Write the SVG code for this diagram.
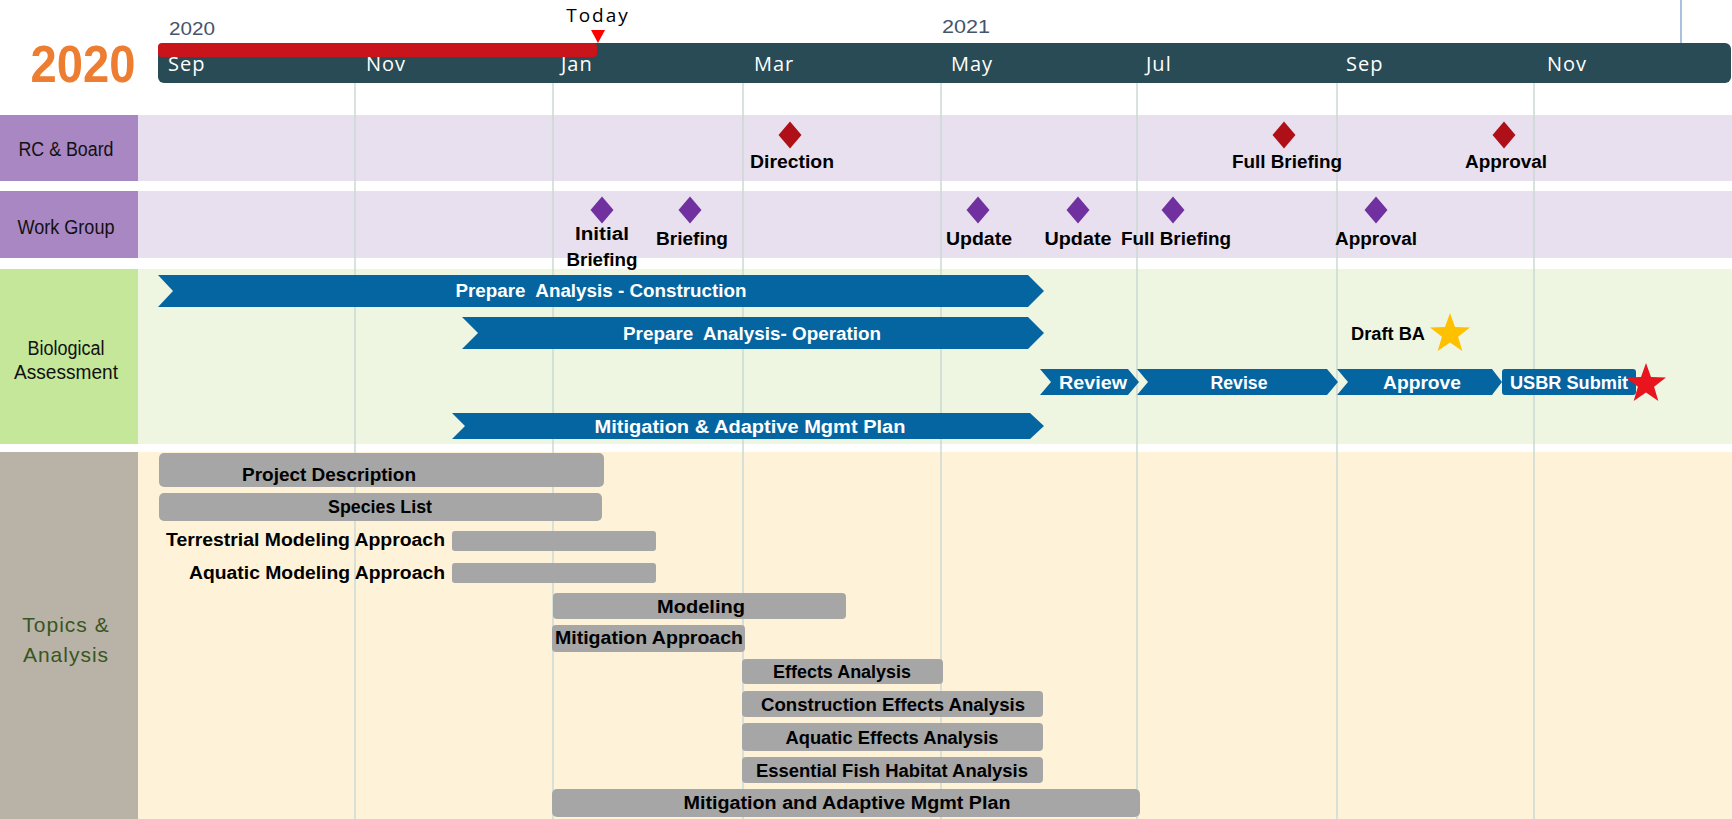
<svg xmlns="http://www.w3.org/2000/svg" width="1732" height="819" viewBox="0 0 1732 819">
<style>
.lbl{font-family:"Liberation Sans",Arial,sans-serif;font-weight:bold;font-size:18px;fill:#000}
.wl{font-family:"Liberation Sans",Arial,sans-serif;font-weight:bold;font-size:18px;fill:#fff}
.row{font-family:"Liberation Sans",Arial,sans-serif;font-size:20px;fill:#111}
.mon{font-family:"Open Sans","DejaVu Sans",sans-serif;font-size:20px;fill:#fff;letter-spacing:1px}
.yr{font-family:"Liberation Sans",Arial,sans-serif;font-size:19px;fill:#44546A}
.grid{stroke:#CBD8D3;stroke-width:1.5}
.blue{fill:#0565A1}
.gray{fill:#A6A6A6}
.rd{fill:#AF0F17}
.pd{fill:#7030A0}
</style>
<defs>
<path id="dia" d="M0,-13.5 L11.5,0 L0,13.5 L-11.5,0Z"/>
<path id="star" d="M0,-21 L5,-6.88 L19.97,-6.49 L8.08,2.63 L12.34,16.99 L0,8.5 L-12.34,16.99 L-8.08,2.63 L-19.97,-6.49 L-5,-6.88Z"/>
</defs>
<rect width="1732" height="819" fill="#fff"/>

<g id="timeline">
<text x="83" y="82" font-family="Liberation Sans,Arial,sans-serif" font-weight="bold" font-size="52" fill="#ED7D31" text-anchor="middle" textLength="105" lengthAdjust="spacingAndGlyphs">2020</text>
<text class="yr" x="169" y="35" textLength="46" lengthAdjust="spacingAndGlyphs">2020</text>
<text class="yr" x="942" y="33" textLength="48" lengthAdjust="spacingAndGlyphs">2021</text>
<line x1="1681" y1="0" x2="1681" y2="44" stroke="#A9C0DE" stroke-width="2"/>
<rect x="158" y="43" width="1573" height="40" rx="6" fill="#284B55"/>
<rect x="158" y="43" width="439" height="14" rx="4" fill="#C8141A"/>
<polygon points="591,30 605,30 598,43" fill="#FF0000"/>
<text x="598" y="22" font-family="Open Sans,DejaVu Sans,sans-serif" font-size="19" fill="#000" text-anchor="middle" letter-spacing="2">Today</text>
<text class="mon" x="168" y="71">Sep</text>
<text class="mon" x="366" y="71">Nov</text>
<text class="mon" x="561" y="71">Jan</text>
<text class="mon" x="754" y="71">Mar</text>
<text class="mon" x="951" y="71">May</text>
<text class="mon" x="1146" y="71">Jul</text>
<text class="mon" x="1346" y="71">Sep</text>
<text class="mon" x="1547" y="71">Nov</text>
</g>

<g id="bands">
<rect x="0" y="115" width="138" height="66" fill="#A987C3"/>
<rect x="138" y="115" width="1594" height="66" fill="#E8E0EF"/>
<rect x="0" y="191" width="138" height="67" fill="#A987C3"/>
<rect x="138" y="191" width="1594" height="67" fill="#E8E0EF"/>
<rect x="0" y="269" width="138" height="175" fill="#C4E799"/>
<rect x="138" y="269" width="1594" height="175" fill="#EEF6E2"/>
<rect x="0" y="452" width="138" height="367" fill="#B9B2A7"/>
<rect x="138" y="452" width="1594" height="367" fill="#FEF3D9"/>
</g>

<g id="gridlines">
<line class="grid" x1="355" y1="83" x2="355" y2="819"/>
<line class="grid" x1="553" y1="83" x2="553" y2="819"/>
<line class="grid" x1="743" y1="83" x2="743" y2="819"/>
<line class="grid" x1="941" y1="83" x2="941" y2="819"/>
<line class="grid" x1="1137" y1="83" x2="1137" y2="819"/>
<line class="grid" x1="1337" y1="83" x2="1337" y2="819"/>
<line class="grid" x1="1534" y1="83" x2="1534" y2="819"/>
</g>

<g id="row-labels">
<text class="row" x="66" y="156" text-anchor="middle" textLength="95" lengthAdjust="spacingAndGlyphs">RC &amp; Board</text>
<text class="row" x="66" y="234" text-anchor="middle" textLength="97" lengthAdjust="spacingAndGlyphs">Work Group</text>
<text class="row" x="66" y="355" text-anchor="middle" textLength="77" lengthAdjust="spacingAndGlyphs">Biological</text>
<text class="row" x="66" y="379" text-anchor="middle" textLength="104" lengthAdjust="spacingAndGlyphs">Assessment</text>
<text x="66" y="632" font-family="Liberation Sans,Arial,sans-serif" font-size="21" fill="#375623" text-anchor="middle" letter-spacing="1">Topics &amp;</text>
<text x="66" y="662" font-family="Liberation Sans,Arial,sans-serif" font-size="21" fill="#375623" text-anchor="middle" letter-spacing="1">Analysis</text>
</g>

<g id="rc-milestones">
<g id="rc-direction"><use href="#dia" x="790" y="135" class="rd"/><text class="lbl" x="792" y="168" text-anchor="middle" textLength="84" lengthAdjust="spacingAndGlyphs">Direction</text></g>
<g id="rc-full-briefing"><use href="#dia" x="1284" y="135" class="rd"/><text class="lbl" x="1287" y="168" text-anchor="middle" textLength="110" lengthAdjust="spacingAndGlyphs">Full Briefing</text></g>
<g id="rc-approval"><use href="#dia" x="1504" y="135" class="rd"/><text class="lbl" x="1506" y="168" text-anchor="middle" textLength="82" lengthAdjust="spacingAndGlyphs">Approval</text></g>
</g>

<g id="wg-milestones">
<g id="wg-initial"><use href="#dia" x="602" y="210" class="pd"/><text class="lbl" x="602" y="240" text-anchor="middle" textLength="54" lengthAdjust="spacingAndGlyphs">Initial</text><text class="lbl" x="602" y="266" text-anchor="middle" textLength="71" lengthAdjust="spacingAndGlyphs">Briefing</text></g>
<g id="wg-briefing"><use href="#dia" x="690" y="210" class="pd"/><text class="lbl" x="692" y="245" text-anchor="middle" textLength="72" lengthAdjust="spacingAndGlyphs">Briefing</text></g>
<g id="wg-update1"><use href="#dia" x="978" y="210" class="pd"/><text class="lbl" x="979" y="245" text-anchor="middle" textLength="66" lengthAdjust="spacingAndGlyphs">Update</text></g>
<g id="wg-update2"><use href="#dia" x="1078" y="210" class="pd"/><text class="lbl" x="1078" y="245" text-anchor="middle" textLength="67" lengthAdjust="spacingAndGlyphs">Update</text></g>
<g id="wg-full-briefing"><use href="#dia" x="1173" y="210" class="pd"/><text class="lbl" x="1176" y="245" text-anchor="middle" textLength="110" lengthAdjust="spacingAndGlyphs">Full Briefing</text></g>
<g id="wg-approval"><use href="#dia" x="1376" y="210" class="pd"/><text class="lbl" x="1376" y="245" text-anchor="middle" textLength="82" lengthAdjust="spacingAndGlyphs">Approval</text></g>
</g>

<g id="ba-tasks">
<g id="ba-construction"><polygon class="blue" points="158,275 1028,275 1044,291 1028,307 158,307 173,291"/><text class="wl" x="601" y="297" text-anchor="middle" textLength="291" lengthAdjust="spacingAndGlyphs" xml:space="preserve">Prepare  Analysis - Construction</text></g>
<g id="ba-operation"><polygon class="blue" points="462,317 1028,317 1044,333 1028,349 462,349 478,333"/><text class="wl" x="752" y="339.5" text-anchor="middle" textLength="258" lengthAdjust="spacingAndGlyphs" xml:space="preserve">Prepare  Analysis- Operation</text></g>
<g id="ba-review"><polygon class="blue" points="1040,369 1128,369 1139,382 1128,395 1040,395 1051,382"/><text class="wl" x="1093" y="388.5" text-anchor="middle" textLength="68" lengthAdjust="spacingAndGlyphs">Review</text></g>
<g id="ba-revise"><polygon class="blue" points="1137,369 1327,369 1338,382 1327,395 1137,395 1148,382"/><text class="wl" x="1239" y="388.5" text-anchor="middle" textLength="57" lengthAdjust="spacingAndGlyphs">Revise</text></g>
<g id="ba-approve"><polygon class="blue" points="1337,369 1492,369 1502,382 1492,395 1337,395 1348,382"/><text class="wl" x="1422" y="388.5" text-anchor="middle" textLength="78" lengthAdjust="spacingAndGlyphs">Approve</text></g>
<g id="ba-usbr"><rect class="blue" x="1502" y="369" width="134" height="26" rx="3"/><text class="wl" x="1569" y="388.5" text-anchor="middle" textLength="118" lengthAdjust="spacingAndGlyphs">USBR Submit</text><use href="#star" x="1646" y="384" fill="#E8141E"/></g>
<g id="ba-draft"><text class="lbl" x="1425" y="340" text-anchor="end" textLength="74" lengthAdjust="spacingAndGlyphs">Draft BA</text><use href="#star" x="1450" y="334" fill="#FFC000"/></g>
<g id="ba-mitigation"><polygon class="blue" points="452,413 1030,413 1044,426 1030,439 452,439 465,426"/><text class="wl" x="750" y="432.5" text-anchor="middle" textLength="311" lengthAdjust="spacingAndGlyphs">Mitigation &amp; Adaptive Mgmt Plan</text></g>
</g>

<g id="topics">
<g id="t-project"><rect class="gray" x="159" y="453" width="445" height="34" rx="5"/><text class="lbl" x="329" y="481" text-anchor="middle" textLength="174" lengthAdjust="spacingAndGlyphs">Project Description</text></g>
<g id="t-species"><rect class="gray" x="159" y="493" width="443" height="28" rx="5"/><text class="lbl" x="380" y="513" text-anchor="middle" textLength="104" lengthAdjust="spacingAndGlyphs">Species List</text></g>
<g id="t-terrestrial"><rect class="gray" x="452" y="531" width="204" height="20" rx="3"/><text class="lbl" x="445" y="546" text-anchor="end" textLength="279" lengthAdjust="spacingAndGlyphs">Terrestrial Modeling Approach</text></g>
<g id="t-aquatic"><rect class="gray" x="452" y="563" width="204" height="20" rx="3"/><text class="lbl" x="445" y="579" text-anchor="end" textLength="256" lengthAdjust="spacingAndGlyphs">Aquatic Modeling Approach</text></g>
<g id="t-modeling"><rect class="gray" x="553" y="593" width="293" height="26" rx="4"/><text class="lbl" x="701" y="613" text-anchor="middle" textLength="88" lengthAdjust="spacingAndGlyphs">Modeling</text></g>
<g id="t-mitigation-approach"><rect class="gray" x="552" y="625" width="193" height="27" rx="4"/><text class="lbl" x="649" y="644" text-anchor="middle" textLength="188" lengthAdjust="spacingAndGlyphs">Mitigation Approach</text></g>
<g id="t-effects"><rect class="gray" x="742" y="659" width="201" height="25" rx="4"/><text class="lbl" x="842" y="678" text-anchor="middle" textLength="138" lengthAdjust="spacingAndGlyphs">Effects Analysis</text></g>
<g id="t-construction"><rect class="gray" x="742" y="691" width="301" height="26" rx="4"/><text class="lbl" x="893" y="711" text-anchor="middle" textLength="264" lengthAdjust="spacingAndGlyphs">Construction Effects Analysis</text></g>
<g id="t-aquatic-effects"><rect class="gray" x="742" y="723" width="301" height="28" rx="4"/><text class="lbl" x="892" y="744" text-anchor="middle" textLength="213" lengthAdjust="spacingAndGlyphs">Aquatic Effects Analysis</text></g>
<g id="t-efh"><rect class="gray" x="742" y="757" width="301" height="26" rx="4"/><text class="lbl" x="892" y="777" text-anchor="middle" textLength="272" lengthAdjust="spacingAndGlyphs">Essential Fish Habitat Analysis</text></g>
<g id="t-mamp"><rect class="gray" x="552" y="789" width="588" height="28" rx="5"/><text class="lbl" x="847" y="809" text-anchor="middle" textLength="327" lengthAdjust="spacingAndGlyphs">Mitigation and Adaptive Mgmt Plan</text></g>
</g>
</svg>
